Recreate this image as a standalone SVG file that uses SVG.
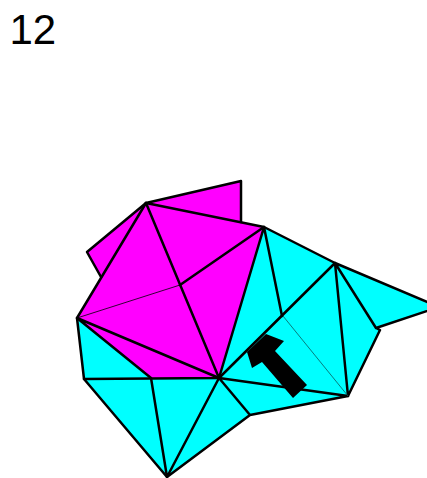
<svg xmlns="http://www.w3.org/2000/svg" width="427" height="478" viewBox="0 0 427 478">
<style>
.m{fill:#f0f;stroke:none}
.c{fill:#0ff;stroke:none}
.e{fill:none;stroke:#000;stroke-width:2.5;stroke-linecap:round;stroke-linejoin:round}
.t{fill:none;stroke:#000;stroke-width:.8}
.t2{fill:none;stroke:#0a5a5a;stroke-width:.8}
</style>
<rect width="427" height="478" fill="#fff"/>
<text x="9.5" y="43.5" font-family="Liberation Sans, Arial, sans-serif" font-size="42" fill="#000">12</text>
<g id="magenta-faces">
<polygon class="m" points="146,203 241,181 241,222 264,227 219,378 151,378 77,318 101,278 87,252"/>
</g>
<g id="cyan-faces">
<polygon class="c" points="264,227 335,263 439,307 376,328 380,330 348,396 250,415 167,477 84,379 77,318 151,378 219,378"/>
</g>
<g id="connectors">
<path class="e" d="M101,277 87,252 146,203 241,181 241,222"/>
<path class="e" d="M146,203 264,227 335,263 439,307 376,328 335,263 348,396 380,330 376,328"/>
<path class="e" d="M146,203 77,318 84,379 167,477 250,415 348,396 219,378 250,415"/>
<path class="e" d="M146,203 219,378 264,227 282,316"/>
<path class="e" d="M264,227 180,285"/>
<path class="e" d="M77,318 219,378 167,477 151,378 77,318"/>
<path class="e" d="M84,379 219,378 335,263"/>
<path class="t" d="M77,318 180,285"/>
<path class="t2" d="M283,316 348,396"/>
</g>
<g id="arrow">
<polygon fill="#000" points="247,352 266,334 284,341 275,351 307,385 293,398 262,362 252,368"/>
</g>
</svg>
